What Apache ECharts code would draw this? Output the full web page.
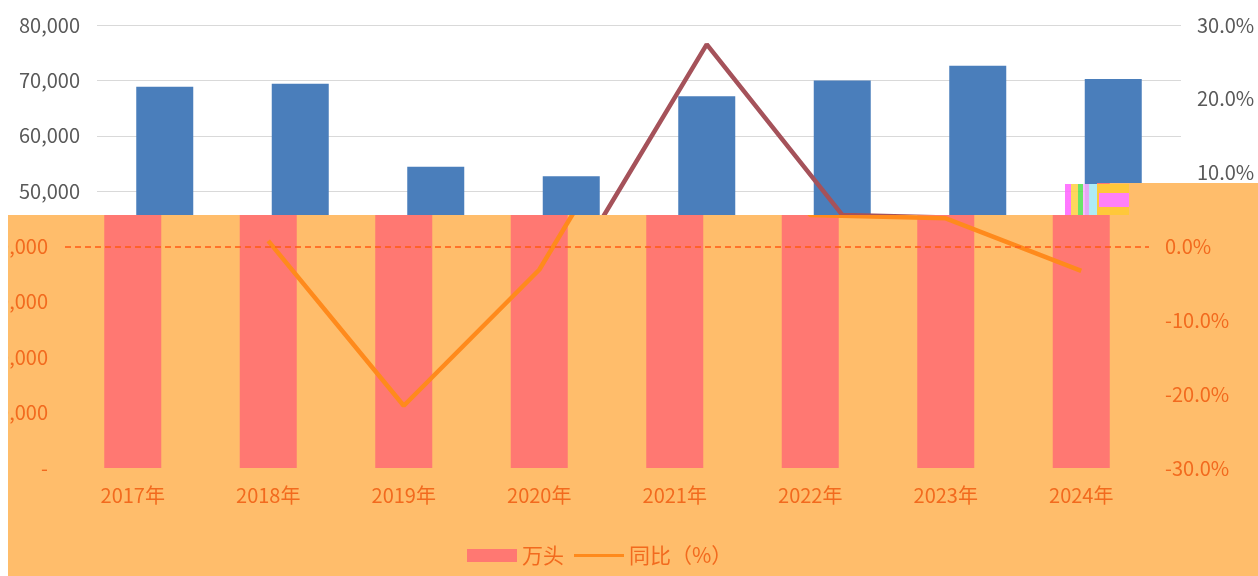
<!DOCTYPE html>
<html>
<head>
<meta charset="utf-8">
<script src="https://cdn.jsdelivr.net/npm/echarts@6/dist/echarts.min.js"></script>
<style>
  html, body { margin: 0; padding: 0; background: #fff; }
  #wrap { position: relative; width: 1258px; height: 576px; overflow: hidden; }
  #base, #over { position: absolute; left: 0; top: 0; width: 1258px; height: 576px; }
  #over {
    background: #FFBD6B;
    clip-path: polygon(8px 215px, 1097px 215px, 1097px 183px, 1258px 183px, 1258px 576px, 8px 576px);
  }
  #glitch1 { position: absolute; left: 1097px; top: 184px; width: 32px; height: 31px; background: #FFC83A; }
  #glitch2 { position: absolute; left: 1099px; top: 193px; width: 30px; height: 14px; background: #FF80F8; }
  #glitch3 { position: absolute; left: 1065px; top: 184px; width: 32px; height: 31px;
    background: linear-gradient(90deg, #FF60FF 0 20%, #FFD040 20% 40%, #50E050 40% 55%, #FFB0FF 55% 75%, #C0FFFF 75% 100%);
    opacity: 0.85; }
</style>
</head>
<body>
<div id="wrap">
  <div id="base"></div>
  <div id="over"></div>
  <div id="glitch1"></div>
  <div id="glitch3"></div>
  <div id="glitch2"></div>
</div>
<script>
var categories = ['2017年', '2018年', '2019年', '2020年', '2021年', '2022年', '2023年', '2024年'];
var hogs = [68861, 69382, 54419, 52704, 67128, 69995, 72662, 70256];
var yoy = [null, 0.76, -21.57, -3.15, 27.37, 4.27, 3.81, -3.31];
var leftTicks = { min: 0, max: 80000, interval: 10000 };
var rightTicks = { min: -30, max: 30, interval: 10 };

var FONT = '"Noto Sans CJK SC", "Noto Sans", sans-serif';

function fmtLeft(v) { return v === 0 ? '-' : v.toLocaleString('en-US'); }
function fmtRight(v) { return v.toFixed(1) + '%'; }

function makeOption(p) {
  return {
    animation: false,
    backgroundColor: 'transparent',
    textStyle: { fontFamily: FONT },
    grid: { left: p.left, right: p.right, top: 25, bottom: 108, containLabel: false, outerBoundsMode: 'none' },
    legend: p.legend ? {
      left: 462, top: 540,
      itemWidth: 50, itemHeight: 13, itemGap: 10,
      textStyle: { color: p.text, fontSize: 21, fontFamily: FONT },
      data: [
        { name: '万头', icon: 'rect' },
        { name: '同比（%）', icon: 'path://M0,0 L55,0 L55,3.5 L0,3.5 Z' }
      ]
    } : { show: false },
    xAxis: {
      type: 'category', data: categories,
      axisLine: { show: false }, axisTick: { show: false },
      axisLabel: { color: p.text, fontSize: 20, margin: 17, fontFamily: FONT }
    },
    yAxis: [{
      type: 'value', min: leftTicks.min, max: leftTicks.max, interval: leftTicks.interval,
      axisLine: { show: false }, axisTick: { show: false },
      axisLabel: { color: p.text, fontSize: 20, margin: 17, formatter: fmtLeft, fontFamily: FONT },
      splitLine: { show: p.split, lineStyle: { color: '#D9D9D9', width: 1 } }
    }, {
      type: 'value', min: rightTicks.min, max: rightTicks.max, interval: rightTicks.interval,
      axisLine: { show: false }, axisTick: { show: false },
      axisLabel: { color: p.text, fontSize: 20, margin: 16, align: 'left', formatter: fmtRight, fontFamily: FONT },
      splitLine: { show: false }
    }],
    series: [{
      name: '万头', type: 'bar', data: hogs, barWidth: 57,
      itemStyle: { color: p.bar }
    }, {
      name: '同比（%）', type: 'line', yAxisIndex: 1, data: yoy,
      symbol: 'none', showSymbol: false, connectNulls: false,
      lineStyle: { color: p.line, width: 4.5 }, itemStyle: { color: p.line },
      z: 3,
      markLine: p.zeroLine ? {
        silent: true, symbol: 'none', label: { show: false },
        lineStyle: { color: '#FF5A14', type: [6, 4], width: 1.5 },
        data: [{ yAxis: 0 }]
      } : undefined
    }]
  };
}

var base = echarts.init(document.getElementById('base'));
base.setOption(makeOption({
  left: 97, right: 77, text: '#595959', bar: '#4A7EBB', line: '#A5525A',
  split: true, legend: false, zeroLine: false
}));

var over = echarts.init(document.getElementById('over'));
over.setOption(makeOption({
  left: 65, right: 109, text: '#F26A1E', bar: '#FF7872', line: '#FF8A1C',
  split: false, legend: true, zeroLine: true
}));
</script>
</body>
</html>
